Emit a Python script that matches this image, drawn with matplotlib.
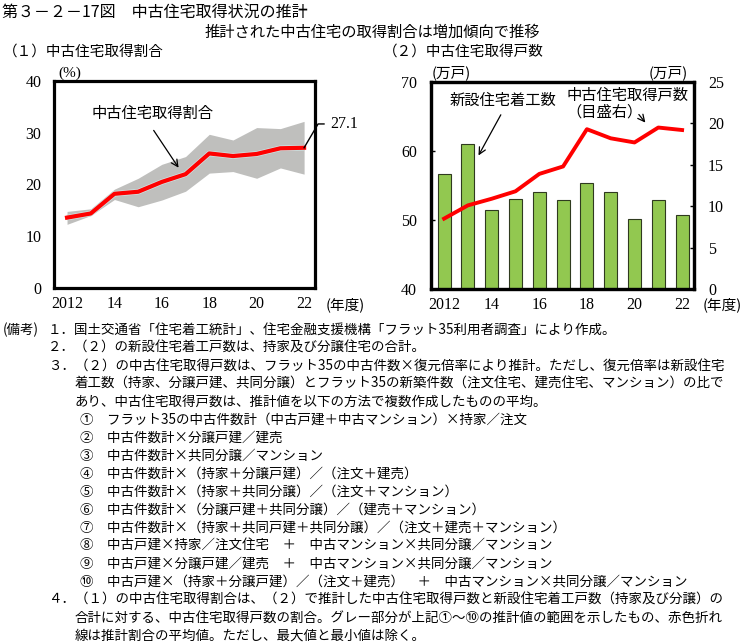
import matplotlib
matplotlib.use("Agg")
import matplotlib.pyplot as plt

plt.rcParams['font.family'] = ['Noto Sans CJK JP', 'DejaVu Sans']

JP = ['Noto Sans CJK JP', 'DejaVu Sans']
NUM = 'Liberation Serif'

# data
years = [2012, 2013, 2014, 2015, 2016, 2017, 2018, 2019, 2020, 2021, 2022]
xtick_pos = [2012, 2014, 2016, 2018, 2020, 2022]
xtick_lab = ['2012', '14', '16', '18', '20', '22']

share_mean = [13.6, 14.4, 18.2, 18.6, 20.5, 22.0, 26.0, 25.5, 25.9, 27.0, 27.1]
share_high = [14.8, 15.3, 19.1, 21.2, 23.9, 25.4, 29.7, 28.6, 31.0, 30.8, 32.2]
share_low = [12.3, 14.0, 17.1, 15.7, 17.0, 18.7, 22.2, 22.5, 21.2, 23.2, 22.0]

starts = [56.6, 61.05, 51.4, 53.1, 54.0, 52.9, 55.3, 54.1, 50.1, 52.9, 50.7]
used_homes = [8.5, 10.1, 10.9, 11.8, 13.9, 14.8, 19.3, 18.2, 17.7, 19.5, 19.2]

notes = [
    "１．国土交通省「住宅着工統計」、住宅金融支援機構「フラット35利用者調査」により作成。",
    "２．（２）の新設住宅着工戸数は、持家及び分譲住宅の合計。",
    "３．（２）の中古住宅取得戸数は、フラット35の中古件数×復元倍率により推計。ただし、復元倍率は新設住宅",
    "着工数（持家、分譲戸建、共同分譲）とフラット35の新築件数（注文住宅、建売住宅、マンション）の比で",
    "あり、中古住宅取得戸数は、推計値を以下の方法で複数作成したものの平均。",
    "①　フラット35の中古件数計（中古戸建＋中古マンション）×持家／注文",
    "②　中古件数計×分譲戸建／建売",
    "③　中古件数計×共同分譲／マンション",
    "④　中古件数計×（持家＋分譲戸建）／（注文＋建売）",
    "⑤　中古件数計×（持家＋共同分譲）／（注文＋マンション）",
    "⑥　中古件数計×（分譲戸建＋共同分譲）／（建売＋マンション）",
    "⑦　中古件数計×（持家＋共同戸建＋共同分譲）／（注文＋建売＋マンション）",
    "⑧　中古戸建×持家／注文住宅　＋　中古マンション×共同分譲／マンション",
    "⑨　中古戸建×分譲戸建／建売　＋　中古マンション×共同分譲／マンション",
    "⑩　中古戸建×（持家＋分譲戸建）／（注文＋建売）　＋　中古マンション×共同分譲／マンション",
    "４．（１）の中古住宅取得割合は、（２）で推計した中古住宅取得戸数と新設住宅着工戸数（持家及び分譲）の",
    "合計に対する、中古住宅取得戸数の割合。グレー部分が上記①～⑩の推計値の範囲を示したもの、赤色折れ",
    "線は推計割合の平均値。ただし、最大値と最小値は除く。",
]
note_x = [48, 48, 48, 75, 75] + [80] * 10 + [48, 75, 75]

W, H = 745, 644
fig = plt.figure(figsize=(W / 100, H / 100), dpi=100)


def px(x, y):
    return x / W, 1 - y / H


def style_frame(ax):
    for s in ax.spines.values():
        s.set_linewidth(2.3)
        s.set_color('black')


# titles
fig.text(*px(2, 12), "第３－２－17図　中古住宅取得状況の推計", fontsize=11.5, va='center', ha='left')
fig.text(*px(372, 32), "推計された中古住宅の取得割合は増加傾向で推移", fontsize=11, va='center', ha='center')
fig.text(*px(3, 52), "（１）中古住宅取得割合", fontsize=10.5, va='center', ha='left')
fig.text(*px(383, 52), "（２）中古住宅取得戸数", fontsize=10.5, va='center', ha='left')

# (1) share
ax1 = fig.add_axes([54 / W, 1 - 288 / H, 261 / W, 207 / H])
ax1.fill_between(years, share_low, share_high, color='#bfbfbd', lw=0)
ax1.plot(years, share_mean, color='#cfe6e6', lw=4.0, solid_capstyle='butt')
ax1.plot(years, share_mean, color='#ff0000', lw=3.0)
ax1.set_xlim(2011.45, 2022.46)
ax1.set_ylim(0, 40)
ax1.set_yticks([0, 10, 20, 30, 40])
ax1.set_xticks(xtick_pos, xtick_lab)
ax1.tick_params(axis='both', length=0, labelsize=11.5)
ax1.tick_params(axis='y', pad=9)
ax1.tick_params(axis='x', pad=6)
for t in ax1.get_xticklabels() + ax1.get_yticklabels():
    t.set_fontfamily(NUM)
style_frame(ax1)

ax1.text(2015.59, 33.8, "中古住宅取得割合", fontsize=11, ha='center', va='center')
ax1.annotate('', xy=(2016.77, 22.8), xytext=(2015.59, 30.9),
             arrowprops=dict(arrowstyle='->', color='black', lw=0.9, mutation_scale=12))
ax1.plot([2022, 2022.59, 2022.84], [share_mean[-1], 31.7, 31.7], color='black', lw=1.0, clip_on=False)
ax1.text(2023.1, 31.7, f"{share_mean[-1]:.1f}", fontsize=11.5, fontfamily=NUM, va='center', ha='left')
fig.text(*px(58, 73), "(%)", fontsize=11, fontfamily=NUM, va='center', ha='left')
fig.text(*px(326, 305), "(年度)", fontsize=10.5, va='center', ha='left')

# (2) counts
ax2 = fig.add_axes([431 / W, 1 - 289 / H, 263 / W, 207 / H])
ax2.bar(years, starts, width=0.55, color='#92c850', edgecolor='#2f3a1f', lw=0.8)
ax2.set_xlim(2011.45, 2022.5)
ax2.set_ylim(40, 70)
ax2.set_yticks([40, 50, 60, 70])
ax2.set_xticks(xtick_pos, xtick_lab)
ax2.tick_params(axis='x', length=0, labelsize=11.5, pad=6)
ax2.tick_params(axis='y', direction='in', length=3, width=1, labelsize=11.5, pad=10)
for t in ax2.get_xticklabels() + ax2.get_yticklabels():
    t.set_fontfamily(NUM)
style_frame(ax2)

ax2r = ax2.twinx()
ax2r.plot(years, used_homes, color='#ff0000', lw=2.8)
ax2r.set_ylim(0, 25)
ax2r.set_yticks([0, 5, 10, 15, 20, 25])
ax2r.tick_params(axis='y', direction='in', length=3, width=1, labelsize=11.5, pad=10)
for t in ax2r.get_yticklabels():
    t.set_fontfamily(NUM)
style_frame(ax2r)

ax2.text(2014.48, 67.4, "新設住宅着工数", fontsize=11, ha='center', va='center')
ax2.annotate('', xy=(2013.39, 59.0), xytext=(2014.44, 65.6),
             arrowprops=dict(arrowstyle='->', color='black', lw=0.9, mutation_scale=12))
ax2.text(2017.15, 68.1, "中古住宅取得戸数", fontsize=11, ha='left', va='center')
ax2.text(2017.15, 65.6, "（目盛右）", fontsize=11, ha='left', va='center')
ax2.annotate('', xy=(2020.53, 63.8), xytext=(2020.11, 65.6),
             arrowprops=dict(arrowstyle='->', color='black', lw=0.9, mutation_scale=12))
fig.text(*px(432, 73), "(万戸)", fontsize=10.5, va='center', ha='left')
fig.text(*px(688, 73), "(万戸)", fontsize=10.5, va='center', ha='right')
fig.text(*px(703, 305), "(年度)", fontsize=10.5, va='center', ha='left')

# notes
fig.text(*px(3, 330), "(備考)", fontsize=9.7, va='center', ha='left')
for i, (line, x) in enumerate(zip(notes, note_x)):
    fig.text(*px(x, 330 + 18 * i), line, fontsize=9.7, va='center', ha='left')

fig.savefig("out.png", dpi=100)
